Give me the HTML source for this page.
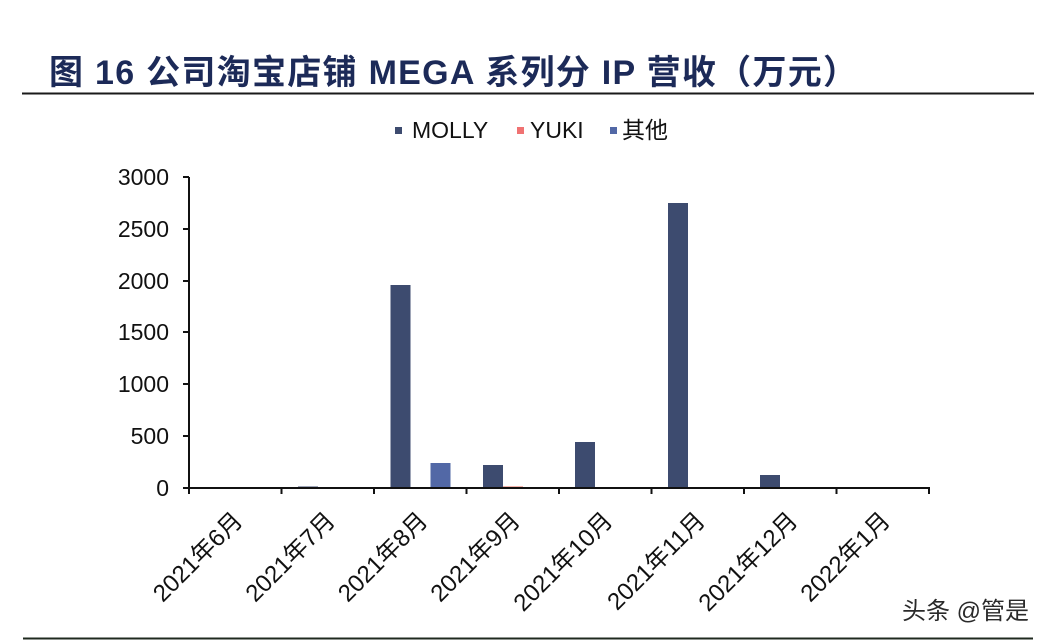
<!DOCTYPE html>
<html>
<head>
<meta charset="utf-8">
<style>
  html,body{margin:0;padding:0;background:#fff;}
  svg{display:block;}
  text{font-family:"Liberation Sans","Noto Sans CJK SC",sans-serif;}
</style>
</head>
<body>
<svg width="1060" height="642" viewBox="0 0 1060 642" xmlns="http://www.w3.org/2000/svg">
  <rect x="0" y="0" width="1060" height="642" fill="#ffffff"/>

  <!-- Title -->
  <text x="49" y="84" font-size="34" font-weight="700" fill="#1c2a58" textLength="808" lengthAdjust="spacing" style="font-family:'Liberation Sans','Noto Sans CJK SC',sans-serif;">图 16 公司淘宝店铺 MEGA 系列分 IP 营收（万元）</text>
  <line x1="22" y1="93.5" x2="1034" y2="93.5" stroke="#1a1a1a" stroke-width="2"/>

  <!-- Legend -->
  <rect x="395" y="127" width="7" height="7" fill="#3d4b6f"/>
  <text x="412" y="138" font-size="23" fill="#111">MOLLY</text>
  <rect x="517" y="127" width="7" height="7" fill="#f07272"/>
  <text x="530" y="138" font-size="23" fill="#111">YUKI</text>
  <rect x="610" y="127" width="7" height="7" fill="#5268a6"/>
  <text x="622" y="138" font-size="23" fill="#111">其他</text>

  <!-- Y axis labels -->
  <g font-size="23" fill="#111" text-anchor="end">
    <text x="169" y="185">3000</text>
    <text x="169" y="237">2500</text>
    <text x="169" y="289">2000</text>
    <text x="169" y="340">1500</text>
    <text x="169" y="392">1000</text>
    <text x="169" y="444">500</text>
    <text x="169" y="496">0</text>
  </g>

  <!-- Bars -->
  <rect x="298" y="486.5" width="20" height="1.5" fill="#3d4b6f"/>
  <rect x="390.5" y="285" width="20" height="203" fill="#3d4b6f"/>
  <rect x="430.5" y="463" width="20" height="25" fill="#5268a6"/>
  <rect x="483" y="465" width="20" height="23" fill="#3d4b6f"/>
  <rect x="503" y="486.5" width="20" height="1.5" fill="#e86a5a"/>
  <rect x="575" y="442" width="20" height="46" fill="#3d4b6f"/>
  <rect x="668" y="203" width="20" height="285" fill="#3d4b6f"/>
  <rect x="760" y="475" width="20" height="13" fill="#3d4b6f"/>

  <!-- Axes -->
  <g stroke="#111" stroke-width="2" fill="none">
    <line x1="189" y1="177" x2="189" y2="489"/>
    <line x1="188" y1="488" x2="930" y2="488"/>
    <line x1="183" y1="177" x2="189" y2="177"/>
    <line x1="183" y1="229" x2="189" y2="229"/>
    <line x1="183" y1="281" x2="189" y2="281"/>
    <line x1="183" y1="332" x2="189" y2="332"/>
    <line x1="183" y1="384" x2="189" y2="384"/>
    <line x1="183" y1="436" x2="189" y2="436"/>
    <line x1="183" y1="488" x2="189" y2="488"/>
    <line x1="189" y1="488" x2="189" y2="494"/>
    <line x1="281.5" y1="488" x2="281.5" y2="494"/>
    <line x1="374" y1="488" x2="374" y2="494"/>
    <line x1="466.5" y1="488" x2="466.5" y2="494"/>
    <line x1="559" y1="488" x2="559" y2="494"/>
    <line x1="651.5" y1="488" x2="651.5" y2="494"/>
    <line x1="744" y1="488" x2="744" y2="494"/>
    <line x1="836.5" y1="488" x2="836.5" y2="494"/>
    <line x1="929" y1="487" x2="929" y2="494"/>
  </g>

  <!-- X labels -->
  <g font-size="24" fill="#111" text-anchor="end">
    <text transform="translate(244,522) rotate(-45)">2021年6月</text>
    <text transform="translate(336.5,522) rotate(-45)">2021年7月</text>
    <text transform="translate(429,522) rotate(-45)">2021年8月</text>
    <text transform="translate(521.5,522) rotate(-45)">2021年9月</text>
    <text transform="translate(614,522) rotate(-45)">2021年10月</text>
    <text transform="translate(706.5,522) rotate(-45)">2021年11月</text>
    <text transform="translate(799,522) rotate(-45)">2021年12月</text>
    <text transform="translate(891.5,522) rotate(-45)">2022年1月</text>
  </g>

  <!-- Watermark -->
  <text x="902" y="619" font-size="24" fill="#2a2a2a" style="font-family:'Liberation Sans','Noto Sans CJK SC',sans-serif;">头条 @管是</text>

  <!-- Bottom line -->
  <line x1="23" y1="638.5" x2="1033" y2="638.5" stroke="#1f2a1f" stroke-width="2"/>
</svg>
</body>
</html>
